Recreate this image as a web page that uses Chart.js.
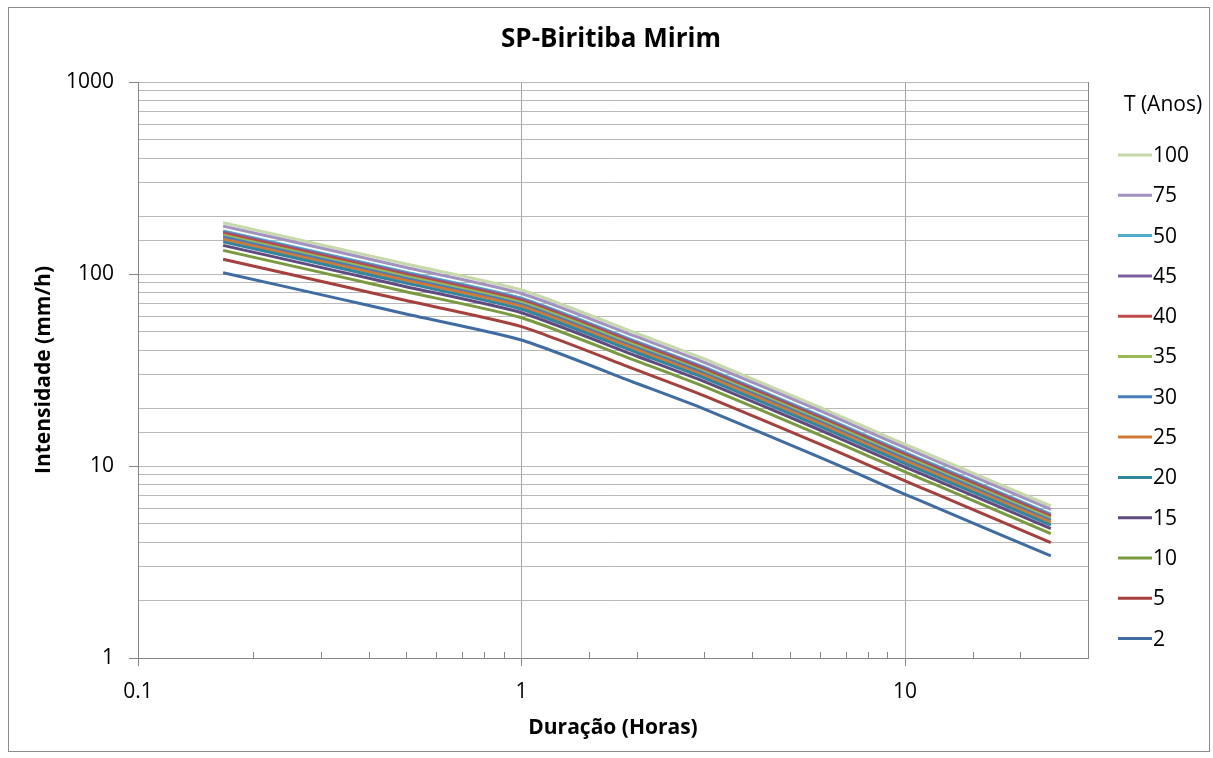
<!DOCTYPE html>
<html>
<head>
<meta charset="utf-8">
<title>SP-Biritiba Mirim</title>
<script src="https://cdn.jsdelivr.net/npm/chart.js@4"></script>
<style>
  html, body { margin: 0; padding: 0; background: #fff; }
  #wrap { position: relative; width: 1213px; height: 758px; }
</style>
</head>
<body>
<div id="wrap"><canvas id="idfChart" width="1213" height="758"></canvas></div>
<script>
/* Data: durations (hours) and intensities (mm/h) per return period */

const durations = [0.1667, 0.3333, 0.5, 1, 2, 3, 6, 8, 10, 12, 24];
const returnPeriods = ["2", "5", "10", "15", "20", "25", "30", "35", "40", "45", "50", "75", "100"];

const t2   = [101.6, 74.4, 61.9, 45.3, 26.9, 19.8, 11.1, 8.64, 7.12, 6.11, 3.40];
const t5   = [119.3, 87.3, 72.7, 53.2, 31.6, 23.2, 13.0, 10.14, 8.36, 7.17, 3.99];
const t10  = [132.8, 97.2, 80.9, 59.2, 35.2, 25.9, 14.5, 11.29, 9.31, 7.99, 4.44];
const t15  = [140.9, 103.2, 85.9, 62.8, 37.3, 27.5, 15.4, 11.98, 9.88, 8.47, 4.72];
const t20  = [147.0, 107.7, 89.6, 65.5, 38.9, 28.7, 16.1, 12.50, 10.30, 8.84, 4.92];
const t25  = [151.8, 111.2, 92.5, 67.7, 40.2, 29.6, 16.6, 12.91, 10.64, 9.13, 5.08];
const t30  = [155.8, 114.1, 94.9, 69.4, 41.2, 30.4, 17.0, 13.25, 10.91, 9.37, 5.21];
const t35  = [159.3, 116.7, 97.1, 71.0, 42.2, 31.0, 17.4, 13.55, 11.16, 9.58, 5.33];
const t40  = [162.4, 118.9, 98.9, 72.4, 43.0, 31.6, 17.7, 13.81, 11.38, 9.76, 5.43];
const t45  = [165.1, 120.9, 100.6, 73.6, 43.7, 32.2, 18.0, 14.04, 11.57, 9.93, 5.53];
const t50  = [167.7, 122.8, 102.2, 74.8, 44.4, 32.7, 18.3, 14.26, 11.76, 10.09, 5.61];
const t75  = [177.6, 130.1, 108.2, 79.2, 47.0, 34.6, 19.4, 15.10, 12.45, 10.68, 5.94];
const t100 = [185.0, 135.5, 112.7, 82.5, 49.0, 36.1, 20.2, 15.73, 12.97, 11.13, 6.19];

const seriesValues = [t2, t5, t10, t15, t20, t25, t30, t35, t40, t45, t50, t75, t100];

const seriesColors = [
    "#3E6CA3", "#A5403D", "#7A9A3F", "#5F4B80", "#31859C", "#D07A36", "#4A7EBB",
    "#98B954", "#BE4B48", "#7D60A0", "#4BACC6", "#A192C0", "#C6D9A8"
];

const FONT = "'Open Sans', 'Liberation Sans', sans-serif";

function isMajor(value) {
    const l = Math.log10(value);
    return Math.abs(l - Math.round(l)) < 1e-6;
}

/* Frame, title, legend and inside minor ticks */

const decorPlugin = {
    id: "decor",
    beforeDraw(chart) {
        const ctx = chart.ctx;
        ctx.save();
        ctx.fillStyle = "#fff";
        ctx.fillRect(0, 0, chart.width, chart.height);
        ctx.strokeStyle = "#8c8c8c";
        ctx.lineWidth = 1;
        ctx.strokeRect(8.5, 7.5, 1201, 744);
        ctx.restore();
    },
    afterDraw(chart) {
        const ctx = chart.ctx;
        const area = chart.chartArea;
        const xScale = chart.scales.x;

        ctx.save();

        // plot area right edge
        ctx.strokeStyle = "#868686";
        ctx.lineWidth = 1;
        ctx.beginPath();
        ctx.moveTo(Math.round(area.right) + 0.5, area.top);
        ctx.lineTo(Math.round(area.right) + 0.5, area.bottom);
        ctx.stroke();

        // minor ticks inside the x axis
        xScale.ticks.forEach(tick => {
            if (isMajor(tick.value)) return;
            const px = Math.round(xScale.getPixelForValue(tick.value)) + 0.5;
            ctx.beginPath();
            ctx.moveTo(px, area.bottom);
            ctx.lineTo(px, area.bottom - 6);
            ctx.stroke();
        });

        // title
        ctx.fillStyle = "#000";
        ctx.textAlign = "center";
        ctx.textBaseline = "middle";
        ctx.font = "bold 26px " + FONT;
        ctx.fillText("SP-Biritiba Mirim", 611, 40);

        // legend
        ctx.font = "21px " + FONT;
        ctx.fillText("T (Anos)", 1163, 105);

        ctx.textAlign = "left";
        const datasets = chart.data.datasets;
        for (let i = 0; i < datasets.length; i++) {
            const ds = datasets[datasets.length - 1 - i];
            const y = 155 + i * 40.3;
            ctx.strokeStyle = ds.borderColor;
            ctx.lineWidth = 3;
            ctx.beginPath();
            ctx.moveTo(1118, y);
            ctx.lineTo(1152, y);
            ctx.stroke();
            ctx.fillStyle = "#000";
            ctx.fillText(ds.label, 1153, y + 1);
        }

        ctx.restore();
    }
};

const datasets = returnPeriods.map((label, i) => ({
    label: label,
    data: durations.map((d, j) => ({ x: d, y: seriesValues[i][j] })),
    borderColor: seriesColors[i],
    backgroundColor: seriesColors[i],
    borderWidth: 3,
    pointRadius: 0,
    tension: 0.2,
    fill: false
}));

new Chart(document.querySelector("#idfChart"), {
    type: "line",
    data: { datasets: datasets },
    options: {
        responsive: false,
        animation: false,
        events: [],
        layout: {
            padding: { top: 82, right: 125, bottom: 0, left: 0 }
        },
        plugins: {
            legend: { display: false },
            title: { display: false },
            tooltip: { enabled: false }
        },
        scales: {
            x: {
                type: "logarithmic",
                min: 0.1,
                max: 30,
                afterFit: scale => { scale.height = 100; },
                border: { color: "#868686" },
                grid: {
                    color: c => isMajor(c.tick.value) ? "#a6a6a6" : "rgba(0,0,0,0)",
                    tickColor: c => isMajor(c.tick.value) ? "#868686" : "rgba(0,0,0,0)",
                    tickLength: 8
                },
                ticks: {
                    autoSkip: false,
                    maxRotation: 0,
                    padding: 13,
                    color: "#000",
                    font: { family: FONT, size: 21 },
                    callback: value => isMajor(value) ? String(value) : ""
                },
                title: {
                    display: true,
                    text: "Duração (Horas)",
                    color: "#000",
                    font: { family: FONT, size: 21, weight: "bold" },
                    padding: { top: 0, bottom: 17 }
                }
            },
            y: {
                type: "logarithmic",
                min: 1,
                max: 1000,
                afterFit: scale => { scale.width = 138; },
                border: { color: "#868686" },
                grid: {
                    color: "#b8b8b8",
                    tickColor: c => isMajor(c.tick.value) ? "#868686" : "rgba(0,0,0,0)",
                    tickLength: 9
                },
                ticks: {
                    autoSkip: false,
                    padding: 15,
                    color: "#000",
                    font: { family: FONT, size: 21 },
                    callback: value => isMajor(value) ? String(value) : ""
                },
                title: {
                    display: true,
                    text: "Intensidade (mm/h)",
                    color: "#000",
                    font: { family: FONT, size: 21, weight: "bold" },
                    padding: { top: 31, bottom: 0 }
                }
            }
        }
    },
    plugins: [decorPlugin]
});
</script>
</body>
</html>
